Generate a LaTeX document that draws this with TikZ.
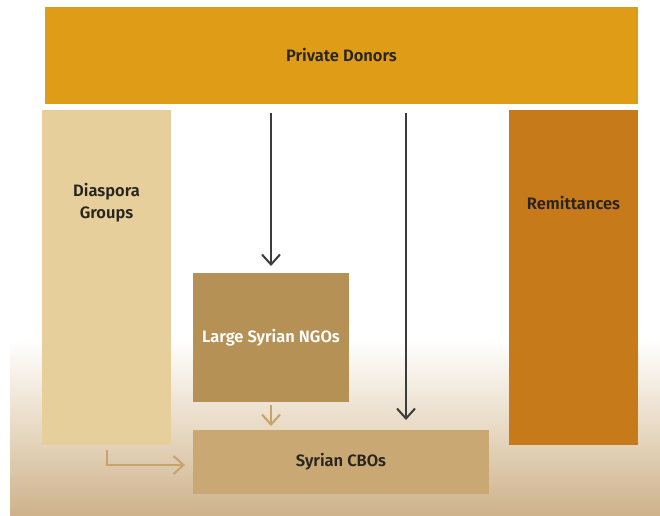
\documentclass[tikz,border=0pt]{standalone}
\usepackage{fontspec}
\setmainfont{Fira Sans}[BoldFont={Fira Sans SemiBold}]
\usetikzlibrary{arrows.meta}
\definecolor{pdcol}{RGB}{222,156,23}
\definecolor{dgcol}{RGB}{231,207,155}
\definecolor{rmcol}{RGB}{199,122,26}
\definecolor{ngocol}{RGB}{182,145,86}
\definecolor{cbocol}{RGB}{202,168,116}
\definecolor{bgcol}{RGB}{206,178,140}
\definecolor{bgmid}{RGB}{232,218,196}
\definecolor{darkline}{RGB}{60,60,60}
\definecolor{tanline}{RGB}{200,163,105}
\definecolor{txt}{RGB}{40,36,32}
\begin{document}
\begin{tikzpicture}[x=1pt,y=-1pt,
  box/.style={rectangle,inner sep=0pt,outer sep=0pt,anchor=north west},
  lbl/.style={font=\bfseries\fontsize{16.5}{20}\selectfont,text=txt,align=center,inner sep=0pt},
  darkarrow/.style={draw=darkline,line width=2pt,-{Straight Barb[length=10pt,width=18pt,line width=2pt]}},
  tanarrow/.style={draw=tanline,line width=2pt,-{Straight Barb[length=10pt,width=18pt,line width=2pt]}}]
\useasboundingbox (0,0) rectangle (660,515);
\fill[white] (0,0) rectangle (660,515);
\shade[top color=white,bottom color=bgcol,middle color=bgmid] (10,340) rectangle (660,515);
\node[box,fill=pdcol,minimum width=593pt,minimum height=97pt] (pd) at (45,7) {};
\node[box,fill=dgcol,minimum width=129pt,minimum height=335pt] (dg) at (42,110) {};
\node[box,fill=rmcol,minimum width=129pt,minimum height=335pt] (rm) at (509,110) {};
\node[box,fill=ngocol,minimum width=156pt,minimum height=129pt] (ngo) at (193,273) {};
\node[box,fill=cbocol,minimum width=296pt,minimum height=64pt] (cbo) at (193,430) {};
\node[lbl] (pdl) at (pd.center) {Private Donors};
\node[lbl] (dgl) at ([yshift=-93pt]dg.north) {Diaspora\\[2pt]Groups};
\node[lbl] (rml) at ([yshift=-93pt]rm.north) {Remittances};
\node[lbl,text=white] (ngol) at (ngo.center) {Large Syrian NGOs};
\node[lbl] (cbol) at (cbo.center) {Syrian CBOs};
\draw[darkarrow,shorten <=9pt,shorten >=7pt] (ngo.north |- pd.south) -- (ngo.north);
\draw[darkarrow,shorten <=9pt,shorten >=10pt] ([xshift=65pt]cbo.north |- pd.south) -- ([xshift=65pt]cbo.north);
\draw[tanarrow,shorten <=3pt,shorten >=4pt] (ngo.south) -- (cbo.north -| ngo.south);
\draw[tanarrow,shorten <=5pt,shorten >=8pt] (dg.south) |- ([yshift=-3pt]cbo.west);
\end{tikzpicture}
\end{document}
